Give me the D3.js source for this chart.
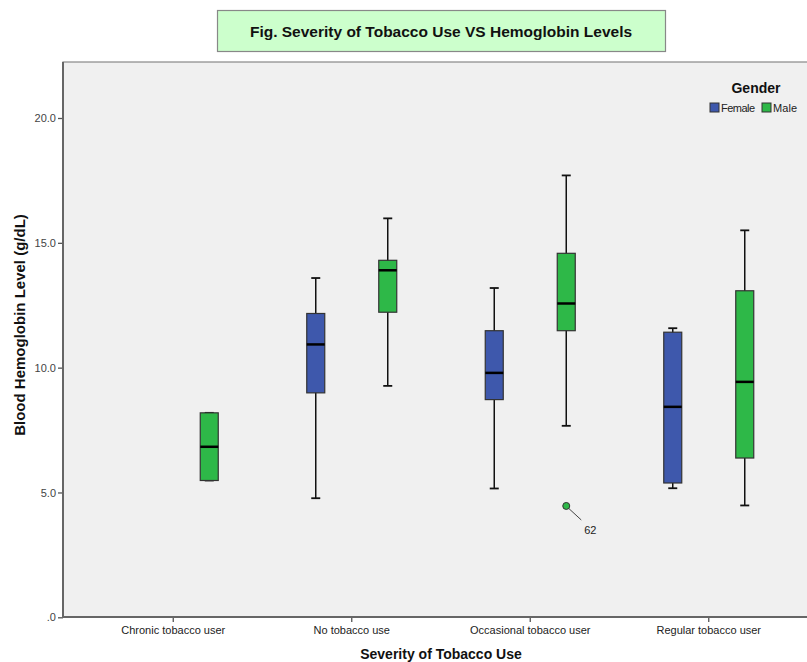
<!DOCTYPE html>
<html>
<head>
<meta charset="utf-8">
<script src="https://cdn.jsdelivr.net/npm/d3@7"></script>
<style>
  body { margin: 0; background: #fff; }
  svg { display: block; font-family: "Liberation Sans", Arial, sans-serif; }
</style>
</head>
<body>
<svg id="chart" width="807" height="662"></svg>
<script>
// categories and groups
const categories = ["Chronic tobacco user", "No tobacco use", "Occasional tobacco user", "Regular tobacco user"];
const genders = ["Female", "Male"];
const genderColors = ["#3e58ac", "#2eb848"];

// box stats: [category, gender, min, q1, median, q3, max]
const boxStats = [
  ["Chronic tobacco user",   "Male",   5.48, 5.48, 6.83, 8.19, 8.19],
  ["No tobacco use",         "Female", 4.77, 8.99, 10.93, 12.17, 13.59],
  ["No tobacco use",         "Male",   9.27, 12.22, 13.90, 14.30, 15.98],
  ["Occasional tobacco user","Female", 5.16, 8.72, 9.79, 11.48, 13.19],
  ["Occasional tobacco user","Male",   7.67, 11.48, 12.57, 14.58, 17.70],
  ["Regular tobacco user",   "Female", 5.17, 5.38, 8.43, 11.42, 11.58],
  ["Regular tobacco user",   "Male",   4.48, 6.38, 9.43, 13.08, 15.50]
];

// outliers: [category, gender, value, case label]
const outliers = [
  ["Occasional tobacco user", "Male", 4.46, "62"]
];

const yTicks = [0, 5, 10, 15, 20];

const svg = d3.select("#chart");
const plot = {left: 63, top: 62, right: 830, bottom: 617};

// plot background
svg.append("rect")
    .attr("x", plot.left).attr("y", plot.top)
    .attr("width", plot.right - plot.left).attr("height", plot.bottom - plot.top)
    .attr("fill", "#f0f0f0")
    .attr("stroke", "#888").attr("stroke-width", 1.2);

const x = d3.scaleBand().domain(categories).range([84, 798]).padding(0);
const xg = d3.scaleBand().domain(genders).range([-72, 72]).padding(0);
const y = d3.scaleLinear().domain([0, 20]).range([617.3, 118]);
const color = d3.scaleOrdinal().domain(genders).range(genderColors);

// axes
const yAxis = svg.append("g")
    .attr("transform", `translate(${plot.left},0)`)
    .call(d3.axisLeft(y).tickValues(yTicks).tickSize(5).tickPadding(2)
        .tickFormat(d => d === 0 ? ".0" : d3.format(".1f")(d)));
yAxis.select(".domain").remove();
yAxis.selectAll("line").attr("stroke", "#555").attr("stroke-width", 1.3);
yAxis.selectAll("text").attr("fill", "#444").style("font-size", "11px");

const xAxis = svg.append("g")
    .attr("transform", `translate(0,${plot.bottom})`)
    .call(d3.axisBottom(x).tickSize(5).tickPadding(4));
xAxis.select(".domain").remove();
xAxis.selectAll("line").attr("stroke", "#555").attr("stroke-width", 1.3);
xAxis.selectAll("text").attr("fill", "#222").style("font-size", "11px");

// axis lines
svg.append("line").attr("x1", plot.left).attr("x2", plot.left)
    .attr("y1", plot.top).attr("y2", plot.bottom + 0.5)
    .attr("stroke", "#666").attr("stroke-width", 2);
svg.append("line").attr("x1", plot.left).attr("x2", 807)
    .attr("y1", plot.bottom).attr("y2", plot.bottom)
    .attr("stroke", "#666").attr("stroke-width", 2);

// boxes
const boxW = 18, capW = 9;
const boxes = svg.append("g").selectAll("g")
    .data(boxStats)
    .join("g")
    .attr("transform", d => `translate(${x(d[0]) + x.bandwidth() / 2 + xg(d[1]) + xg.bandwidth() / 2},0)`);

boxes.append("line")
    .attr("y1", d => y(d[2])).attr("y2", d => y(d[6]))
    .attr("stroke", "#111").attr("stroke-width", 1.5);
boxes.append("line")
    .attr("x1", -capW / 2).attr("x2", capW / 2)
    .attr("y1", d => y(d[6])).attr("y2", d => y(d[6]))
    .attr("stroke", "#111").attr("stroke-width", 1.8);
boxes.append("line")
    .attr("x1", -capW / 2).attr("x2", capW / 2)
    .attr("y1", d => y(d[2])).attr("y2", d => y(d[2]))
    .attr("stroke", "#111").attr("stroke-width", 1.8);
boxes.append("rect")
    .attr("x", -boxW / 2).attr("width", boxW)
    .attr("y", d => y(d[5])).attr("height", d => y(d[3]) - y(d[5]))
    .attr("fill", d => color(d[1]))
    .attr("stroke", "#333").attr("stroke-width", 1.2);
boxes.append("line")
    .attr("x1", -boxW / 2).attr("x2", boxW / 2)
    .attr("y1", d => y(d[4])).attr("y2", d => y(d[4]))
    .attr("stroke", "#000").attr("stroke-width", 2.5);

// outliers
const out = svg.append("g").selectAll("g")
    .data(outliers)
    .join("g")
    .attr("transform", d => `translate(${x(d[0]) + x.bandwidth() / 2 + xg(d[1]) + xg.bandwidth() / 2},${y(d[2])})`);
out.append("line").attr("x1", 2).attr("y1", 2).attr("x2", 15).attr("y2", 14)
    .attr("stroke", "#444").attr("stroke-width", 1);
out.append("circle").attr("r", 3.5)
    .attr("fill", d => color(d[1])).attr("stroke", "#333").attr("stroke-width", 1);
out.append("text").attr("x", 18).attr("y", 28)
    .style("font-size", "11px").attr("fill", "#222")
    .text(d => d[3]);

// axis titles
svg.append("text")
    .attr("transform", `translate(25,325) rotate(-90)`)
    .attr("text-anchor", "middle")
    .style("font-size", "15px").style("font-weight", "bold").attr("fill", "#111")
    .text("Blood Hemoglobin Level (g/dL)");
svg.append("text")
    .attr("x", 441).attr("y", 659)
    .attr("text-anchor", "middle")
    .style("font-size", "14px").style("font-weight", "bold").attr("fill", "#111")
    .text("Severity of Tobacco Use");

// title box
svg.append("rect")
    .attr("x", 217.5).attr("y", 10.5).attr("width", 448).attr("height", 41)
    .attr("fill", "#ccffcc").attr("stroke", "#888").attr("stroke-width", 1.2);
svg.append("text")
    .attr("x", 441).attr("y", 37)
    .attr("text-anchor", "middle")
    .style("font-size", "15.5px").style("font-weight", "bold").attr("fill", "#111")
    .text("Fig. Severity of Tobacco Use VS Hemoglobin Levels");

// legend
const legend = svg.append("g");
legend.append("text")
    .attr("x", 756).attr("y", 93)
    .attr("text-anchor", "middle")
    .style("font-size", "14px").style("font-weight", "bold").attr("fill", "#111")
    .text("Gender");
const legendX = [710, 762];
const li = legend.selectAll("g.item")
    .data(genders)
    .join("g")
    .attr("class", "item")
    .attr("transform", (d, i) => `translate(${legendX[i]},103)`);
li.append("rect").attr("width", 9).attr("height", 9)
    .attr("fill", d => color(d)).attr("stroke", "#333").attr("stroke-width", 1);
li.append("text").attr("x", 11).attr("y", 9)
    .style("font-size", "11px").attr("fill", "#222")
    .attr("textLength", d => d === "Female" ? 34 : 24)
    .text(d => d);
</script>
</body>
</html>
